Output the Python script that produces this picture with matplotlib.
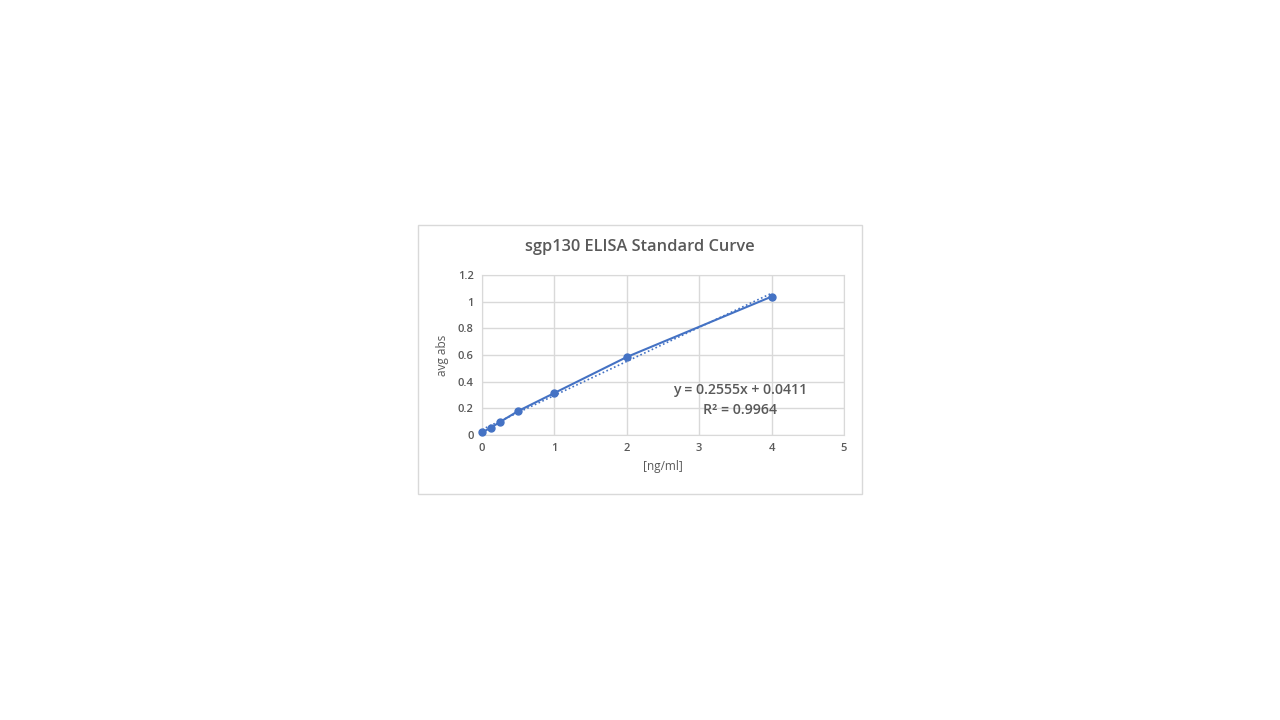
import matplotlib
matplotlib.use("Agg")
import matplotlib.pyplot as plt
from matplotlib.patches import Rectangle

# standard curve data
conc = [0, 0.125, 0.25, 0.5, 1, 2, 4]
avg_abs = [0.019, 0.056, 0.098, 0.18, 0.315, 0.585, 1.038]
slope = 0.2555
intercept = 0.0411
r2 = 0.9964
xticks = [0, 1, 2, 3, 4, 5]
yticks = [0, 0.2, 0.4, 0.6, 0.8, 1, 1.2]
ytick_labels = ["0", "0.2", "0.4", "0.6", "0.8", "1", "1.2"]

blue = "#4472C4"
txt = "#595959"
grid = "#d9d9d9"
plt.rcParams["font.family"] = ["Open Sans", "DejaVu Sans"]

fig = plt.figure(figsize=(12.8, 7.2), dpi=100)
# chart border
fig.patches.append(Rectangle((418 / 1280, 1 - 494 / 720), 444 / 1280, 269 / 720,
                             transform=fig.transFigure, fill=False,
                             edgecolor="#d9d9d9", linewidth=1))

ax = fig.add_axes([482 / 1280, 1 - 435 / 720, 362 / 1280, 160 / 720])
ax.plot(conc, avg_abs, color=blue, linewidth=1.5, marker="o", markersize=5, zorder=3,
        clip_on=False)
fit_x = [conc[0], conc[-1]]
fit_y = [slope * v + intercept for v in fit_x]
ax.plot(fit_x, fit_y, color=blue, linewidth=1.2, linestyle=(0, (1, 1.5)), zorder=2)

ax.set_xlim(0, 5)
ax.set_ylim(0, 1.2)
ax.set_xticks(xticks)
ax.set_yticks(yticks)
ax.set_yticklabels(ytick_labels)
ax.grid(True, color=grid, linewidth=1)
ax.set_axisbelow(True)
for s in ax.spines.values():
    s.set_color(grid)
ax.tick_params(length=0, labelsize=8, colors=txt, pad=6)
for lab in ax.get_xticklabels() + ax.get_yticklabels():
    lab.set_fontweight("semibold")
ax.set_xlabel("[ng/ml]", fontsize=8.5, color=txt, labelpad=4)
ax.set_ylabel("avg abs", fontsize=8.5, color=txt, labelpad=6)

fig.text(640 / 1280, 1 - 247 / 720, "sgp130 ELISA Standard Curve", ha="center", va="center",
         fontsize=11.8, fontweight="semibold", color=txt)
ax.text(3.56, 0.262, f"y = {slope}x + {intercept}\nR² = {r2}", ha="center", va="center",
        fontsize=10.2, color=txt, fontweight="semibold", linespacing=1.55)

fig.savefig("out.png", dpi=100)
